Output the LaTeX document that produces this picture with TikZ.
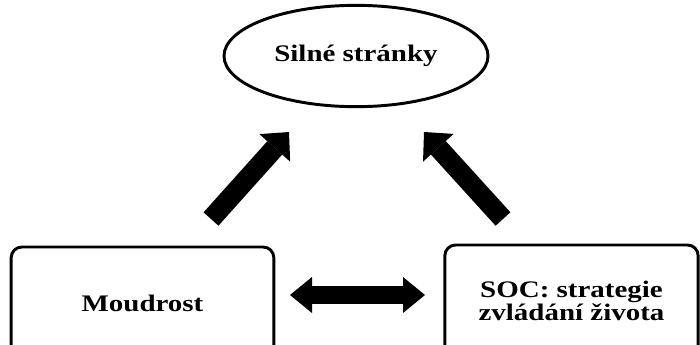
\documentclass[tikz,border=0pt]{standalone}
\usepackage{fontspec}
\setmainfont{Liberation Serif}[FakeStretch=1.22]
\usetikzlibrary{arrows.meta,shapes.geometric}

\tikzset{
  oval/.style={draw, ellipse, line width=2.2pt, inner sep=0pt,
    minimum width=198pt, minimum height=76pt},
  boxnode/.style={draw, rectangle, rounded corners=8pt, line width=2.2pt,
    minimum height=84pt, align=center},
  boxtext/.style={font=\bfseries\fontsize{17.8pt}{15.5pt}\selectfont},
  bigarrow/.style={line width=15pt,
    -{Triangle[width=31pt,length=16pt,line width=0pt]}},
  bothway/.style={line width=13.5pt,
    {Triangle[width=27pt,length=16.5pt,line width=0pt]}-{Triangle[width=27pt,length=16.5pt,line width=0pt]}}
}

\begin{document}
\begin{tikzpicture}[x=0.75pt, y=-0.75pt]
			%%%%% START %%%%%
			\useasboundingbox (0, 0) rectangle (700, 344);
			\clip (0, 0) rectangle (700, 344);
			
			\node[oval, boxtext] (strengths) at (356, 56) {Silné stránky};
			
			\node[boxnode, boxtext, minimum width=197pt] (wisdom) at (142.5, 303) {Moudrost};
			\node[boxnode, boxtext, minimum width=190pt] (soc) at (571.5, 301) {SOC: strategie\\zvládání života};
			
			% arrows up to the oval
			\coordinate (lefttail) at (211, 219);
			\coordinate (lefttip) at (289, 132);
			\coordinate (righttail) at (503, 219);
			\coordinate (righttip) at (424, 132);
			\draw[bigarrow] (lefttail) -- (lefttip);
			\draw[bigarrow] (righttail) -- (righttip);
			
			% arrow between the boxes
			\coordinate (midleft) at (290, 295);
			\coordinate (midright) at (425, 295);
			\draw[bothway] (midleft) -- (midright);
			
			%%%%% END %%%%%
\end{tikzpicture}
\end{document}
